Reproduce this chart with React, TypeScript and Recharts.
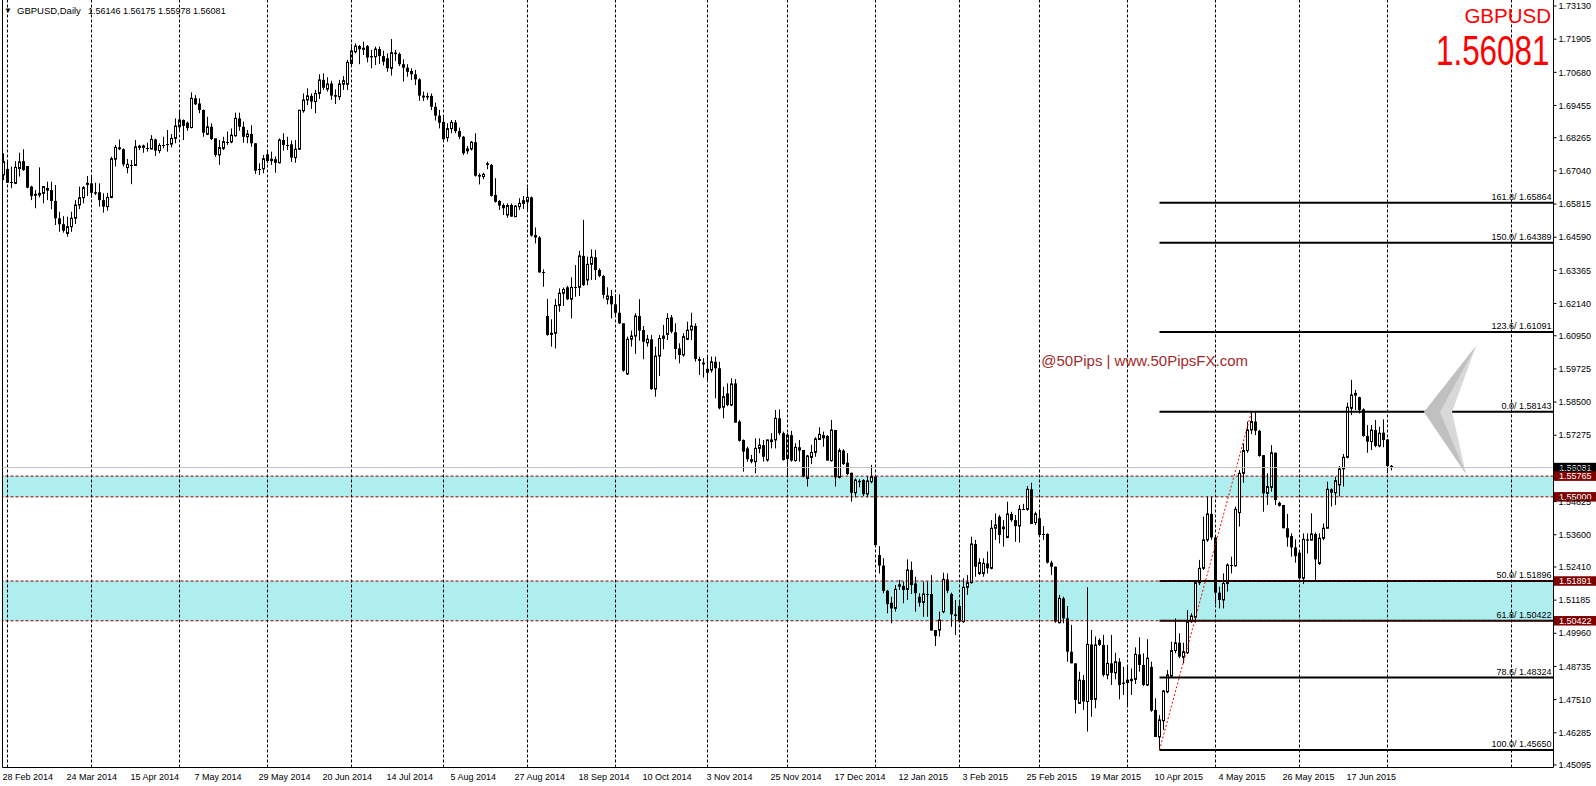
import React from "react";
import { ComposedChart, Bar, XAxis, YAxis, ReferenceLine, ReferenceArea } from "recharts";

const W = 1596;
const H = 786;
const FONT = "'Liberation Sans', Arial, sans-serif";

// ---- daily candles, 28 Feb 2014 (bar 0) .. 2 Jul 2015 (bar 347) ----
const opens = [
1.6689,1.6711,1.6660,1.6658,1.6713,1.6740,1.6722,1.6646,1.6619,1.6615,1.6621,1.6641,
1.6633,1.6593,1.6529,1.6507,1.6473,1.6498,1.6529,1.6578,1.6605,1.6654,1.6658,1.6625,
1.6625,1.6596,1.6572,1.6606,1.6747,1.6791,1.6784,1.6716,1.6728,1.6724,1.6791,1.6791,
1.6788,1.6785,1.6820,1.6779,1.6798,1.6803,1.6803,1.6824,1.6867,1.6892,1.6882,1.6864,
1.6972,1.6953,1.6929,1.6839,1.6867,1.6824,1.6763,1.6787,1.6811,1.6811,1.6834,1.6898,
1.6867,1.6830,1.6840,1.6806,1.6713,1.6712,1.6765,1.6742,1.6747,1.6734,1.6818,1.6800,
1.6802,1.6753,1.6784,1.6926,1.6966,1.6981,1.6960,1.6990,1.7040,1.7006,1.7027,1.6984,
1.6978,1.7024,1.7024,1.7101,1.7144,1.7165,1.7153,1.7165,1.7128,1.7126,1.7154,1.7128,
1.7120,1.7083,1.7141,1.7136,1.7098,1.7085,1.7073,1.7061,1.7042,1.6982,1.6981,1.6981,
1.6941,1.6908,1.6885,1.6827,1.6860,1.6883,1.6851,1.6830,1.6778,1.6785,1.6810,1.6689,
1.6683,1.6732,1.6726,1.6615,1.6593,1.6578,1.6541,1.6578,1.6535,1.6572,1.6584,1.6590,
1.6606,1.6467,1.6458,1.6329,1.6168,1.6100,1.6104,1.6207,1.6252,1.6274,1.6230,1.6273,
1.6274,1.6390,1.6301,1.6359,1.6385,1.6338,1.6316,1.6230,1.6242,1.6211,1.6180,1.6141,
1.5954,1.6082,1.6094,1.6168,1.6116,1.6069,1.6082,1.5898,1.6020,1.6085,1.6100,1.6163,
1.6108,1.6048,1.6024,1.6082,1.6116,1.6131,1.6009,1.5996,1.5960,1.5968,1.5999,1.5975,
1.5831,1.5882,1.5839,1.5919,1.5778,1.5710,1.5679,1.5639,1.5630,1.5679,1.5691,1.5636,
1.5704,1.5710,1.5790,1.5735,1.5642,1.5728,1.5634,1.5683,1.5673,1.5568,1.5646,1.5664,
1.5712,1.5728,1.5725,1.5634,1.5747,1.5572,1.5671,1.5626,1.5589,1.5515,1.5559,1.5562,
1.5510,1.5556,1.5575,1.5285,1.5246,1.5153,1.5109,1.5088,1.5177,1.5171,1.5158,1.5230,
1.5180,1.5131,1.5110,1.5141,1.5141,1.5008,1.5008,1.5076,1.5195,1.5141,1.5066,1.5097,
1.5039,1.5166,1.5183,1.5326,1.5217,1.5217,1.5254,1.5236,1.5384,1.5427,1.5390,1.5350,
1.5437,1.5414,1.5392,1.5454,1.5454,1.5528,1.5405,1.5421,1.5363,1.5363,1.5257,1.5242,
1.5035,1.5125,1.5051,1.4928,1.4885,1.4737,1.4823,1.4744,1.4955,1.4752,1.4971,1.4953,
1.4842,1.4885,1.4850,1.4891,1.4814,1.4814,1.4821,1.4826,1.4918,1.4879,1.4805,1.4872,
1.4713,1.4613,1.4673,1.4780,1.4838,1.4932,1.4961,1.4907,1.4924,1.5039,1.5055,1.5183,
1.5236,1.5341,1.5437,1.5350,1.5146,1.5119,1.5180,1.5248,1.5245,1.5442,1.5587,1.5671,
1.5747,1.5778,1.5744,1.5654,1.5513,1.5535,1.5663,1.5478,1.5470,1.5384,1.5355,1.5313,
1.5294,1.5199,1.5343,1.5340,1.5363,1.5254,1.5347,1.5384,1.5528,1.5515,1.5544,1.5603,
1.5646,1.5827,1.5876,1.5868,1.5823,1.5725,1.5704,1.5747,1.5688,1.5737,1.5712,1.56146];

const highs = [
1.6769,1.6744,1.6720,1.6740,1.6771,1.6784,1.6722,1.6649,1.6633,1.6717,1.6648,1.6664,
1.6664,1.6652,1.6553,1.6537,1.6535,1.6553,1.6596,1.6646,1.6648,1.6685,1.6683,1.6660,
1.6658,1.6621,1.6623,1.6756,1.6800,1.6820,1.6787,1.6748,1.6744,1.6818,1.6800,1.6801,
1.6808,1.6836,1.6823,1.6806,1.6830,1.6855,1.6840,1.6898,1.6929,1.6894,1.6886,1.6994,
1.6984,1.6972,1.6931,1.6904,1.6880,1.6824,1.6818,1.6830,1.6849,1.6861,1.6919,1.6919,
1.6886,1.6855,1.6873,1.6806,1.6732,1.6763,1.6781,1.6775,1.6757,1.6824,1.6843,1.6830,
1.6816,1.6818,1.6929,1.6990,1.7009,1.6990,1.7003,1.7061,1.7064,1.7050,1.7037,1.7005,
1.7040,1.7054,1.7114,1.7173,1.7175,1.7169,1.7181,1.7169,1.7151,1.7163,1.7163,1.7148,
1.7138,1.7191,1.7151,1.7141,1.7116,1.7098,1.7083,1.7077,1.7046,1.6997,1.6993,1.6990,
1.6956,1.6929,1.6902,1.6880,1.6892,1.6892,1.6864,1.6833,1.6796,1.6814,1.6843,1.6695,
1.6697,1.6738,1.6730,1.6677,1.6596,1.6584,1.6584,1.6584,1.6578,1.6603,1.6611,1.6643,
1.6609,1.6495,1.6463,1.6340,1.6231,1.6156,1.6231,1.6270,1.6273,1.6279,1.6311,1.6356,
1.6409,1.6523,1.6387,1.6414,1.6412,1.6344,1.6319,1.6274,1.6264,1.6248,1.6248,1.6141,
1.6092,1.6114,1.6178,1.6230,1.6131,1.6098,1.6098,1.6055,1.6098,1.6135,1.6178,1.6172,
1.6141,1.6067,1.6104,1.6147,1.6180,1.6141,1.6018,1.6012,1.6018,1.6018,1.6018,1.5999,
1.5907,1.5919,1.5938,1.5935,1.5784,1.5712,1.5685,1.5655,1.5716,1.5716,1.5710,1.5712,
1.5735,1.5821,1.5823,1.5741,1.5735,1.5744,1.5698,1.5710,1.5673,1.5655,1.5692,1.5720,
1.5757,1.5741,1.5728,1.5784,1.5747,1.5679,1.5676,1.5661,1.5589,1.5568,1.5565,1.5565,
1.5577,1.5618,1.5577,1.5318,1.5273,1.5156,1.5131,1.5174,1.5193,1.5187,1.5269,1.5261,
1.5205,1.5144,1.5187,1.5187,1.5211,1.5008,1.5076,1.5220,1.5217,1.5146,1.5119,1.5119,
1.5199,1.5211,1.5353,1.5341,1.5273,1.5273,1.5298,1.5414,1.5439,1.5433,1.5414,1.5482,
1.5445,1.5433,1.5470,1.5474,1.5540,1.5552,1.5445,1.5451,1.5392,1.5365,1.5264,1.5242,
1.5138,1.5131,1.5097,1.5027,1.4885,1.4854,1.4842,1.5166,1.5008,1.4984,1.4977,1.4990,
1.4953,1.4990,1.4924,1.4904,1.4872,1.4872,1.4866,1.4944,1.4981,1.4922,1.4974,1.4891,
1.4756,1.4694,1.4786,1.4860,1.4965,1.5051,1.4996,1.4961,1.5082,1.5070,1.5193,1.5267,
1.5427,1.5501,1.5501,1.5353,1.5168,1.5217,1.5254,1.5279,1.5464,1.5599,1.5698,1.5778,
1.5814,1.5812,1.5747,1.5654,1.5587,1.5691,1.5663,1.5482,1.5470,1.5437,1.5365,1.5343,
1.5297,1.5365,1.5365,1.5439,1.5368,1.5365,1.5402,1.5556,1.5531,1.5574,1.5614,1.5658,
1.5848,1.5932,1.5895,1.5870,1.5827,1.5765,1.5765,1.5784,1.5759,1.5786,1.5714,1.56175];

const lows = [
1.6670,1.6660,1.6640,1.6655,1.6683,1.6704,1.6640,1.6596,1.6566,1.6606,1.6584,1.6596,
1.6562,1.6504,1.6479,1.6476,1.6461,1.6479,1.6508,1.6563,1.6584,1.6611,1.6606,1.6615,
1.6572,1.6550,1.6557,1.6603,1.6720,1.6781,1.6720,1.6695,1.6655,1.6722,1.6781,1.6771,
1.6775,1.6784,1.6759,1.6769,1.6787,1.6775,1.6791,1.6806,1.6849,1.6818,1.6852,1.6861,
1.6947,1.6917,1.6830,1.6836,1.6818,1.6756,1.6726,1.6781,1.6800,1.6806,1.6830,1.6852,
1.6808,1.6806,1.6793,1.6693,1.6689,1.6695,1.6732,1.6726,1.6697,1.6732,1.6779,1.6781,
1.6737,1.6734,1.6781,1.6919,1.6947,1.6933,1.6917,1.6970,1.7003,1.6997,1.6966,1.6951,
1.6966,1.7003,1.7003,1.7091,1.7138,1.7098,1.7132,1.7105,1.7083,1.7095,1.7099,1.7093,
1.7070,1.7056,1.7110,1.7091,1.7034,1.7052,1.7040,1.7021,1.6963,1.6962,1.6966,1.6929,
1.6890,1.6861,1.6812,1.6812,1.6843,1.6843,1.6821,1.6763,1.6766,1.6779,1.6683,1.6654,
1.6673,1.6710,1.6609,1.6587,1.6560,1.6541,1.6531,1.6535,1.6535,1.6560,1.6563,1.6560,
1.6461,1.6436,1.6328,1.6276,1.6095,1.6055,1.6048,1.6184,1.6205,1.6227,1.6159,1.6239,
1.6242,1.6279,1.6282,1.6301,1.6301,1.6311,1.6233,1.6211,1.6159,1.6165,1.6138,1.5962,
1.5950,1.6055,1.6028,1.6077,1.6008,1.6055,1.5895,1.5870,1.5946,1.6045,1.6079,1.6104,
1.6008,1.5993,1.6018,1.6079,1.6079,1.5999,1.5950,1.5940,1.5925,1.5959,1.5864,1.5823,
1.5790,1.5835,1.5835,1.5774,1.5704,1.5593,1.5630,1.5624,1.5587,1.5661,1.5630,1.5630,
1.5679,1.5679,1.5728,1.5634,1.5575,1.5630,1.5630,1.5630,1.5572,1.5538,1.5621,1.5648,
1.5710,1.5685,1.5634,1.5630,1.5538,1.5568,1.5618,1.5581,1.5482,1.5498,1.5535,1.5503,
1.5498,1.5550,1.5322,1.5217,1.5144,1.5070,1.5033,1.5076,1.5156,1.5107,1.5119,1.5141,
1.5076,1.5094,1.5057,1.5057,1.5006,1.4949,1.4984,1.5070,1.5144,1.5020,1.4990,1.5035,
1.5035,1.5138,1.5180,1.5205,1.5211,1.5205,1.5217,1.5232,1.5341,1.5328,1.5316,1.5347,
1.5408,1.5334,1.5331,1.5451,1.5449,1.5400,1.5396,1.5355,1.5341,1.5254,1.5211,1.5035,
1.5033,1.5033,1.4891,1.4885,1.4700,1.4735,1.4713,1.4633,1.4688,1.4719,1.4949,1.4836,
1.4826,1.4805,1.4826,1.4752,1.4768,1.4725,1.4768,1.4809,1.4854,1.4801,1.4801,1.4706,
1.4613,1.4565,1.4639,1.4775,1.4836,1.4922,1.4904,1.4885,1.4920,1.5035,1.5035,1.5174,
1.5230,1.5334,1.5341,1.5104,1.5088,1.5088,1.5150,1.5217,1.5242,1.5390,1.5552,1.5663,
1.5732,1.5728,1.5648,1.5445,1.5470,1.5519,1.5470,1.5464,1.5384,1.5316,1.5279,1.5257,
1.5195,1.5178,1.5291,1.5340,1.5193,1.5248,1.5340,1.5384,1.5464,1.5470,1.5501,1.5538,
1.5642,1.5802,1.5821,1.5808,1.5722,1.5663,1.5673,1.5683,1.5683,1.5683,1.5587,1.55978];

const closes = [
1.6738,1.6660,1.6663,1.6717,1.6737,1.6707,1.6642,1.6611,1.6612,1.6621,1.6646,1.6631,
1.6593,1.6529,1.6507,1.6483,1.6498,1.6529,1.6578,1.6605,1.6642,1.6658,1.6623,1.6620,
1.6596,1.6572,1.6606,1.6749,1.6791,1.6784,1.6728,1.6728,1.6726,1.6793,1.6795,1.6796,
1.6786,1.6820,1.6779,1.6798,1.6801,1.6806,1.6824,1.6870,1.6892,1.6870,1.6862,1.6972,
1.6950,1.6929,1.6845,1.6867,1.6822,1.6763,1.6790,1.6812,1.6814,1.6836,1.6898,1.6867,
1.6830,1.6840,1.6806,1.6705,1.6710,1.6749,1.6740,1.6747,1.6734,1.6818,1.6800,1.6802,
1.6753,1.6784,1.6928,1.6966,1.6981,1.6960,1.6990,1.7040,1.7011,1.7025,1.6982,1.6978,
1.7025,1.7037,1.7105,1.7147,1.7165,1.7153,1.7157,1.7123,1.7123,1.7154,1.7128,1.7107,
1.7083,1.7141,1.7135,1.7098,1.7085,1.7070,1.7061,1.7042,1.6982,1.6975,1.6975,1.6941,
1.6908,1.6882,1.6821,1.6860,1.6883,1.6851,1.6830,1.6769,1.6785,1.6810,1.6686,1.6683,
1.6691,1.6726,1.6612,1.6590,1.6576,1.6566,1.6576,1.6535,1.6574,1.6584,1.6594,1.6606,
1.6465,1.6458,1.6329,1.6332,1.6098,1.6104,1.6207,1.6252,1.6266,1.6230,1.6274,1.6276,
1.6390,1.6282,1.6359,1.6385,1.6338,1.6316,1.6246,1.6242,1.6211,1.6180,1.6141,1.5966,
1.6082,1.6094,1.6168,1.6114,1.6073,1.6082,1.5898,1.6020,1.6085,1.6094,1.6159,1.6110,
1.6046,1.6024,1.6092,1.6116,1.6131,1.6009,1.6002,1.5989,1.5971,1.5999,1.5975,1.5827,
1.5870,1.5839,1.5917,1.5774,1.5707,1.5667,1.5639,1.5630,1.5679,1.5691,1.5648,1.5710,
1.5710,1.5790,1.5735,1.5636,1.5728,1.5634,1.5683,1.5671,1.5575,1.5651,1.5664,1.5714,
1.5731,1.5716,1.5634,1.5747,1.5572,1.5671,1.5621,1.5584,1.5515,1.5562,1.5554,1.5510,
1.5559,1.5575,1.5322,1.5246,1.5153,1.5104,1.5088,1.5158,1.5168,1.5156,1.5230,1.5174,
1.5144,1.5109,1.5141,1.5138,1.5006,1.4986,1.5045,1.5195,1.5153,1.5066,1.5060,1.5039,
1.5166,1.5183,1.5326,1.5242,1.5257,1.5254,1.5236,1.5384,1.5396,1.5359,1.5380,1.5437,
1.5414,1.5392,1.5454,1.5456,1.5528,1.5400,1.5437,1.5359,1.5360,1.5257,1.5242,1.5039,
1.5125,1.5051,1.4928,1.4885,1.4750,1.4823,1.4744,1.4955,1.4750,1.4953,1.4953,1.4842,
1.4885,1.4850,1.4891,1.4805,1.4809,1.4823,1.4826,1.4918,1.4879,1.4805,1.4904,1.4710,
1.4613,1.4676,1.4783,1.4842,1.4932,1.4961,1.4910,1.4928,1.5039,1.5060,1.5183,1.5236,
1.5341,1.5437,1.5350,1.5146,1.5119,1.5180,1.5248,1.5245,1.5454,1.5587,1.5671,1.5747,
1.5778,1.5744,1.5651,1.5513,1.5538,1.5663,1.5488,1.5467,1.5384,1.5350,1.5313,1.5281,
1.5199,1.5343,1.5338,1.5363,1.5269,1.5347,1.5384,1.5528,1.5515,1.5560,1.5603,1.5646,
1.5831,1.5876,1.5882,1.5821,1.5725,1.5704,1.5747,1.5688,1.5735,1.5710,1.5614,1.56081];

// ---- time axis ----
const dateLabels = [
  "28 Feb 2014", "24 Mar 2014", "15 Apr 2014", "7 May 2014", "29 May 2014", "20 Jun 2014",
  "14 Jul 2014", "5 Aug 2014", "27 Aug 2014", "18 Sep 2014", "10 Oct 2014", "3 Nov 2014",
  "25 Nov 2014", "17 Dec 2014", "12 Jan 2015", "3 Feb 2015", "25 Feb 2015", "19 Mar 2015",
  "10 Apr 2015", "4 May 2015", "26 May 2015", "17 Jun 2015",
];
const barsPerLabel = 16;
const labelBars = dateLabels.map((_, k) => k * barsPerLabel);
const monthStartBars = [1, 22, 44, 66, 87, 110, 131, 153, 176, 196, 218, 239, 259, 281, 303, 324, 346, 377];

// ---- price axis ----
const priceTicks = [
  1.7313, 1.71905, 1.7068, 1.69455, 1.68265, 1.6704, 1.65815, 1.6459, 1.63365, 1.6214,
  1.6095, 1.59725, 1.585, 1.57275, 1.5605, 1.54825, 1.536, 1.5241, 1.51185, 1.4996,
  1.48735, 1.4751, 1.46285, 1.45095,
];
const X_DOMAIN: [number, number] = [-0.25, 387.5];
const Y_DOMAIN: [number, number] = [1.450026, 1.73352];

// ---- Fibonacci levels ----
const fibRatios = ["161.8", "150.0", "123.6", "0.0", "50.0", "61.8", "78.6", "100.0"];
const fibPrices = [1.65864, 1.64389, 1.61091, 1.58143, 1.51896, 1.50422, 1.48324, 1.4565];
const fibStartBar = 289;
const trendBars = [289, 312];
const trendPrices = [1.4565, 1.58143];

// ---- zones and horizontal levels ----
const upperZone = [1.55, 1.55765];
const lowerZone = [1.50422, 1.51891];
const bidPrice = 1.56081;
const headerValues = ["1.56146", "1.56175", "1.55978", "1.56081"];

const data = closes.map((c, i) => ({
  i,
  open: opens[i],
  high: highs[i],
  low: lows[i],
  close: c,
  range: [lows[i], highs[i]],
}));

function Candle(props: any) {
  const { x, y, width, height, payload } = props;
  if (x == null || y == null || !payload) return null;
  const cx = Math.floor(x + width / 2) + 0.5;
  const top = Math.min(y, y + height);
  const h = Math.abs(height);
  const { open, close, high, low } = payload;
  const span = high - low || 1e-9;
  const py = (p: number) => top + ((high - p) / span) * h;
  const bTop = py(Math.max(open, close));
  const bBot = py(Math.min(open, close));
  const up = close > open;
  let body;
  if (bBot - bTop < 1) {
    const yy = Math.round((bTop + bBot) / 2) + 0.5;
    body = <line x1={cx - 1.5} x2={cx + 1.5} y1={yy} y2={yy} stroke="#000" strokeWidth={1} />;
  } else if (up) {
    body = <rect x={cx - 1} y={bTop} width={2} height={bBot - bTop} fill="#fff" stroke="#000" strokeWidth={1} />;
  } else {
    body = <rect x={cx - 1.5} y={bTop} width={3} height={bBot - bTop} fill="#000" />;
  }
  return (
    <g>
      <line x1={cx} x2={cx} y1={top} y2={top + h} stroke="#000" strokeWidth={1} />
      {body}
    </g>
  );
}

function DateTick(props: any) {
  const { x, y, payload } = props;
  const k = Math.round(payload.value / barsPerLabel);
  return (
    <text x={x - 1} y={y + 12.5} textAnchor="start" fontSize={9} fontFamily={FONT} fill="#000">
      {dateLabels[k]}
    </text>
  );
}

function FibLabel(props: any) {
  const { viewBox, text } = props;
  if (!viewBox) return null;
  return (
    <text x={viewBox.x + viewBox.width - 2} y={viewBox.y - 2.5} textAnchor="end" fontSize={9} fontFamily={FONT} fill="#000">
      {text}
    </text>
  );
}

function AxisTag(props: any) {
  const { viewBox, text, bg } = props;
  if (!viewBox) return null;
  const right = viewBox.x + viewBox.width;
  const cy = viewBox.y;
  return (
    <g>
      <rect x={right + 0.5} y={cy - 4.75} width={W - right} height={9.5} fill={bg} />
      <text x={right + 5.5} y={cy + 3.2} fontSize={9} fontFamily={FONT} fill="#fff">
        {text}
      </text>
    </g>
  );
}

export default function App() {
  return (
    <div style={{ position: "absolute", left: 0, top: 0, width: W, height: H, background: "#fff", overflow: "hidden" }}>
      <ComposedChart width={W} height={H} data={data} margin={{ top: 0, right: 0, bottom: 0, left: 2.5 }}>
        <XAxis
          type="number"
          dataKey="i"
          domain={X_DOMAIN}
          allowDataOverflow
          ticks={labelBars}
          interval={0}
          tick={<DateTick />}
          tickLine={false}
          tickSize={0}
          tickMargin={0}
          axisLine={{ stroke: "#000" }}
          height={18.5}
        />
        <YAxis
          orientation="right"
          type="number"
          domain={Y_DOMAIN}
          allowDataOverflow
          ticks={priceTicks}
          interval={0}
          width={42.5}
          tickSize={3}
          tickMargin={2}
          tickFormatter={(v: number) => v.toFixed(5)}
          tick={{ fontSize: 9, fill: "#000", fontFamily: FONT }}
          axisLine={{ stroke: "#000" }}
          tickLine={{ stroke: "#000" }}
        />
        <ReferenceArea y1={upperZone[0]} y2={upperZone[1]} fill="#AFEEEE" fillOpacity={1} stroke="none" />
        <ReferenceArea y1={lowerZone[0]} y2={lowerZone[1]} fill="#AFEEEE" fillOpacity={1} stroke="none" />
        {monthStartBars.map((b) => (
          <ReferenceLine key={"m" + b} x={b} stroke="#000" strokeDasharray="3 2" />
        ))}
        <ReferenceLine x={X_DOMAIN[0]} stroke="#000" />
        <Bar dataKey="range" barSize={3} shape={<Candle />} isAnimationActive={false} />
        <ReferenceLine
          segment={[{ x: trendBars[0], y: trendPrices[0] }, { x: trendBars[1], y: trendPrices[1] }]}
          stroke="#FF0000"
          strokeDasharray="2 2"
        />
        {fibPrices.map((p, k) => (
          <ReferenceLine
            key={"f" + k}
            segment={[{ x: fibStartBar, y: p }, { x: X_DOMAIN[1], y: p }]}
            stroke="#000"
            strokeWidth={2}
            label={<FibLabel text={`${fibRatios[k]}/ ${p.toFixed(5)}`} />}
          />
        ))}
        <ReferenceLine y={bidPrice} stroke="#C0C0C0" label={<AxisTag text={bidPrice.toFixed(5)} bg="#000" />} />
        {[upperZone[1], upperZone[0], lowerZone[1], lowerZone[0]].map((p) => (
          <ReferenceLine
            key={"z" + p}
            y={p}
            stroke="#800000"
            strokeDasharray="3 2"
            label={<AxisTag text={p.toFixed(5)} bg="#800000" />}
          />
        ))}
      </ComposedChart>
      <svg width={W} height={H} style={{ position: "absolute", left: 0, top: 0, pointerEvents: "none" }}>
        <text x={4} y={13} fontSize={8} fontFamily={FONT} fill="#000">▼</text>
        <text x={17} y={13.5} fontSize={9.5} fontFamily={FONT} fill="#000">GBPUSD,Daily</text>
        <text x={88} y={13.5} fontSize={9} fontFamily={FONT} fill="#000">{headerValues.join(" ")}</text>
        <text x={1551} y={23} textAnchor="end" fontSize={20.5} fontFamily={FONT} fill="#FF0000">GBPUSD</text>
        <g transform="translate(1436,64.5) scale(0.73,1)">
          <text x={0} y={0} fontSize={43} fontFamily={FONT} fill="#FF0000">
            {bidPrice.toFixed(5)}
          </text>
        </g>
        <text x={1248} y={366} textAnchor="end" fontSize={15} fontFamily={FONT} fill="#A52A2A">@50Pips | www.50PipsFX.com</text>
        <polygon points="1476,346 1424,412 1466,474 1452,412" fill="#D8D8D8" />
        <polygon points="1476,346 1424,412 1466,474 1440,412" fill="#B0B0B0" opacity={0.6} />
      </svg>
    </div>
  );
}
